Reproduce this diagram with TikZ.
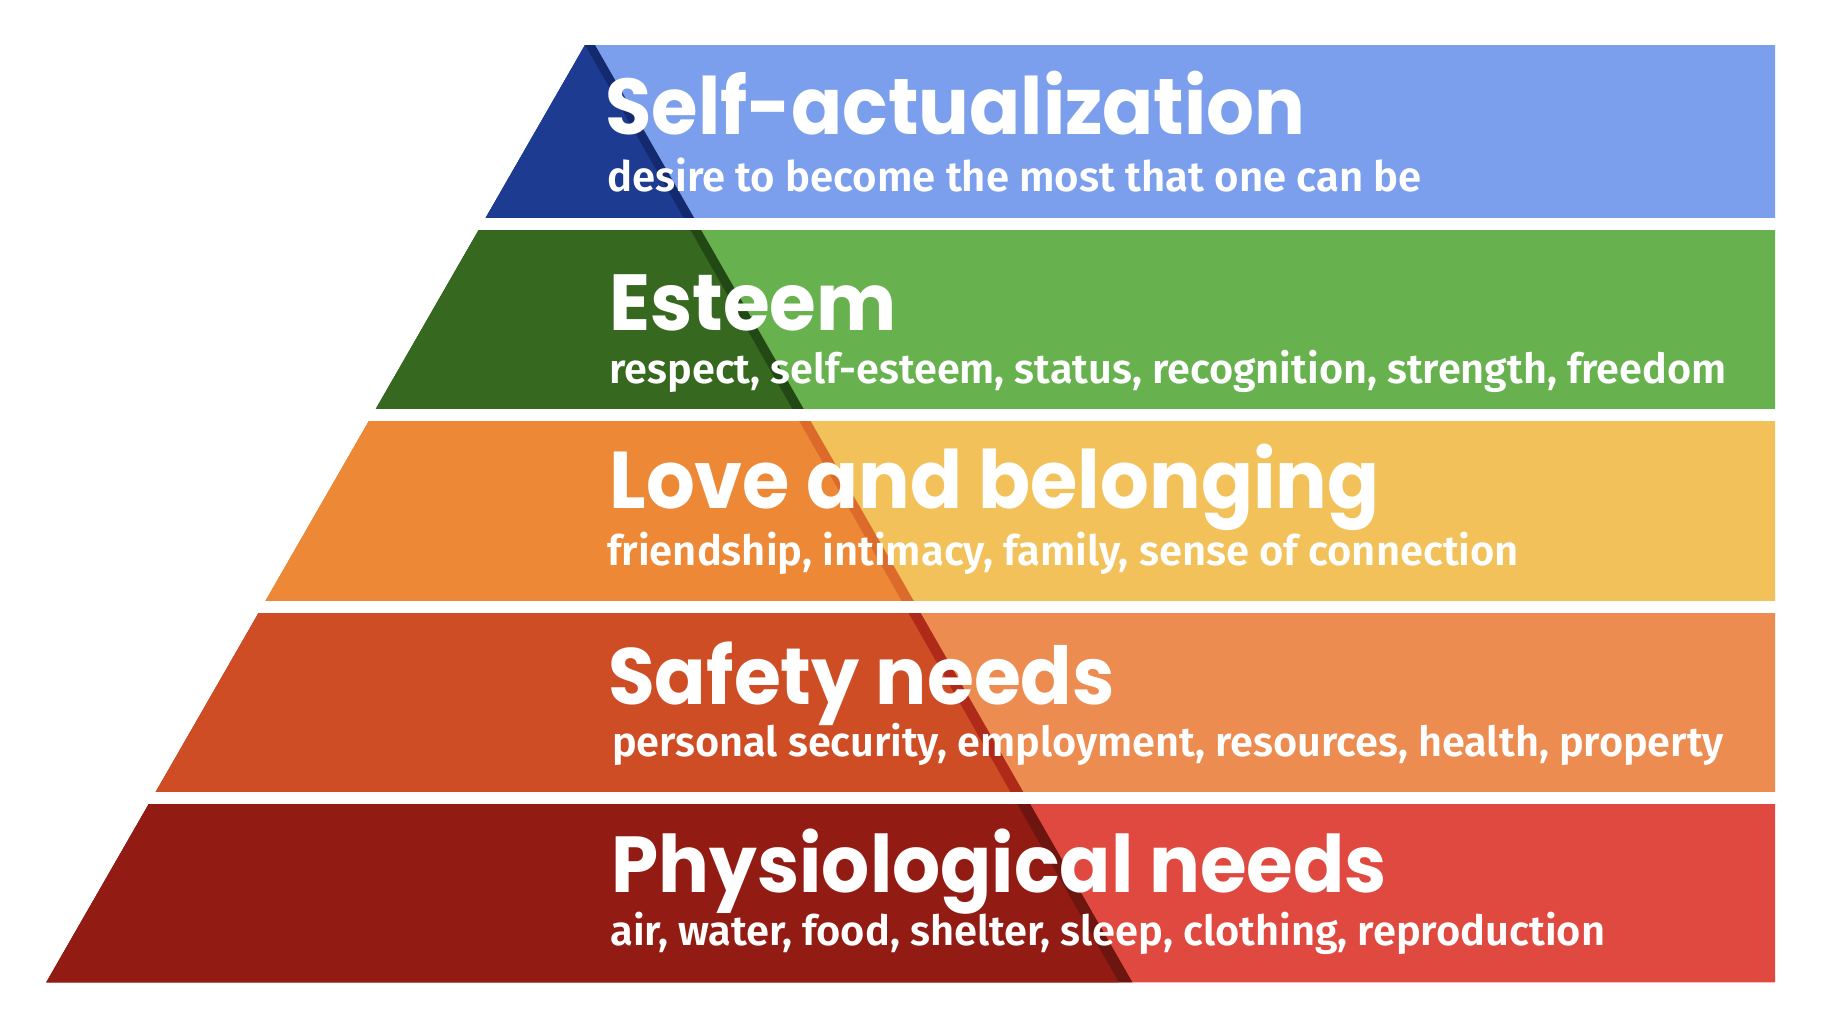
\documentclass[tikz,border=0pt]{standalone}
\usepackage{fontspec}
\usepackage{graphicx}
\setmainfont{Fira Sans}
\newfontfamily\titlefont{Poppins}
\newfontfamily\subfont{Fira Sans SemiBold}
\definecolor{bdark}{HTML}{1C3B91}
\definecolor{bstripe}{HTML}{142A6E}
\definecolor{blight}{HTML}{7B9FEC}
\definecolor{gdark}{HTML}{36691F}
\definecolor{gstripe}{HTML}{224915}
\definecolor{glight}{HTML}{67B14F}
\definecolor{odark}{HTML}{EC8836}
\definecolor{ostripe}{HTML}{DC6A2A}
\definecolor{olight}{HTML}{F2C159}
\definecolor{sdark}{HTML}{CF4D24}
\definecolor{sstripe}{HTML}{B02A1A}
\definecolor{slight}{HTML}{EC8C51}
\definecolor{pdark}{HTML}{921C14}
\definecolor{pstripe}{HTML}{6D150F}
\definecolor{plight}{HTML}{E0493F}
\newcommand\mybandfill[5]{%
  \begin{scope}
    \clip (0,#1) rectangle (1835,#2);
    \fill[#5] (apex) -- (tr) -- (br) -- (bl) -- cycle;
    \fill[#4] (apex) -- (sr0) -- (sr1) -- (bl) -- cycle;
    \fill[#3] (apex) -- (sl1) -- (bl) -- cycle;
  \end{scope}}
\newcommand\mytitle[2]{\raisebox{0pt}[\height][0pt]{\scalebox{1}[1.05]{\resizebox{#1}{!}{#2}}}}
\newcommand\mysub[2]{\resizebox{#1}{!}{#2}}
\begin{document}
\begin{tikzpicture}[x=1pt,y=-1pt,
  titletext/.style={anchor=base west,inner sep=0pt,outer sep=0pt,text=white,font=\titlefont\bfseries\fontsize{60}{70}\selectfont},
  subtext/.style={anchor=base west,inner sep=0pt,outer sep=0pt,text=white,font=\subfont\fontsize{30}{36}\selectfont}]
\useasboundingbox (0,0) rectangle (1835,1019);
\fill[white] (0,0) rectangle (1835,1019);
\coordinate (apex) at (585,45);
\coordinate (tr) at (1775,45);
\coordinate (br) at (1775,982.3);
\coordinate (bl) at (46.3,982.3);
\coordinate (sr0) at (595,45);
\coordinate (sr1) at (1132.4,982.3);
\coordinate (sl1) at (1118.7,982.3);
\mybandfill{45.7}{217.5}{bdark}{bstripe}{blight}
\mybandfill{230.5}{408.5}{gdark}{gstripe}{glight}
\mybandfill{421.5}{600.5}{odark}{ostripe}{olight}
\mybandfill{613}{791.5}{sdark}{sstripe}{slight}
\mybandfill{804}{982.3}{pdark}{pstripe}{plight}
\node[titletext] (t1) at (605.5,135) {\mytitle{700pt}{Self-actualization}};
\node[subtext] (s1) at (607,191.7) {\mysub{814.7pt}{desire to become the most that one can be}};
\node[titletext] (t2) at (609.2,330) {\mytitle{287.5pt}{Esteem}};
\node[subtext] (s2) at (609.7,383.3) {\mysub{1117pt}{respect, self-esteem, status, recognition, strength, freedom}};
\node[titletext] (t3) at (609.5,508.3) {\mytitle{770pt}{Love and belonging}};
\node[subtext] (s3) at (607,565) {\mysub{912pt}{friendship, intimacy, family, sense of connection}};
\node[titletext] (t4) at (608.2,704) {\mytitle{506.8pt}{Safety needs}};
\node[subtext] (s4) at (612,756.7) {\mysub{1111.8pt}{personal security, employment, resources, health, property}};
\node[titletext] (t5) at (611.5,892.3) {\mytitle{775.5pt}{Physiological needs}};
\node[subtext] (s5) at (610.3,945.3) {\mysub{994.7pt}{air, water, food, shelter, sleep, clothing, reproduction}};
\end{tikzpicture}
\end{document}
